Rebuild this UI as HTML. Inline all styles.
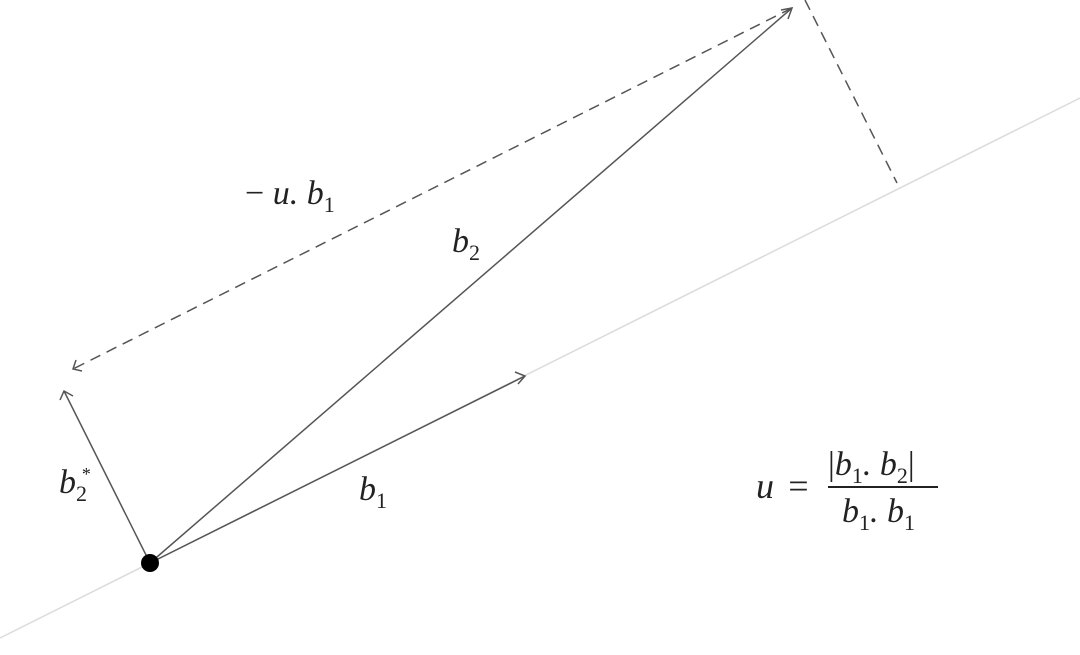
<!DOCTYPE html>
<html><head><meta charset="utf-8"><style>
html,body{margin:0;padding:0;background:#fff;}
svg{display:block;}
text{font-family:"Liberation Serif","DejaVu Serif",serif;font-style:italic;fill:#222;}
.s{font-style:normal;font-size:22px;}
</style></head><body>
<svg width="1080" height="655" viewBox="0 0 1080 655" xmlns="http://www.w3.org/2000/svg">
<line x1="0" y1="638" x2="1080" y2="98" stroke="#dcdcdc" stroke-width="1.5"/>
<g stroke="#555" stroke-width="1.5" fill="none">
<line x1="150" y1="563" x2="525" y2="376"/>
<polyline points="515,372 525,376 518,384"/>
<line x1="150" y1="563" x2="792" y2="8"/>
<polyline points="781,10 792,8 788,19"/>
<line x1="150" y1="563" x2="64" y2="391"/>
<polyline points="60,400 64,391 73,396"/>
<line x1="792" y1="8" x2="73" y2="369" stroke-dasharray="11,7"/>
<polyline points="76,360 73,369 82,371"/>
<line x1="805" y1="0" x2="897" y2="183" stroke-dasharray="11,7"/>
</g>
<circle cx="150" cy="563" r="9" fill="#000"/>
<text x="245" y="204" font-size="34"><tspan font-style="normal">− </tspan>u. b<tspan class="s" dy="8">1</tspan></text>
<text x="452" y="252" font-size="34">b<tspan class="s" dy="8">2</tspan></text>
<text x="359" y="500" font-size="34">b<tspan class="s" dy="8">1</tspan></text>
<text x="59" y="493" font-size="34">b<tspan class="s" dy="8">2</tspan></text>
<text x="81" y="480" font-size="18" font-style="normal">*</text>
<text x="756" y="498" font-size="36">u</text>
<text x="786" y="498" font-size="36" font-style="normal">=</text>
<text x="828" y="475" font-size="34"><tspan font-style="normal">|</tspan>b<tspan class="s" dy="8">1</tspan><tspan dy="-8">. b</tspan><tspan class="s" dy="8">2</tspan><tspan dy="-8" font-style="normal">|</tspan></text>
<line x1="828" y1="487" x2="938" y2="487" stroke="#222" stroke-width="2"/>
<text x="842" y="522" font-size="34">b<tspan class="s" dy="8">1</tspan><tspan dy="-8">. b</tspan><tspan class="s" dy="8">1</tspan></text>
</svg>
</body></html>
